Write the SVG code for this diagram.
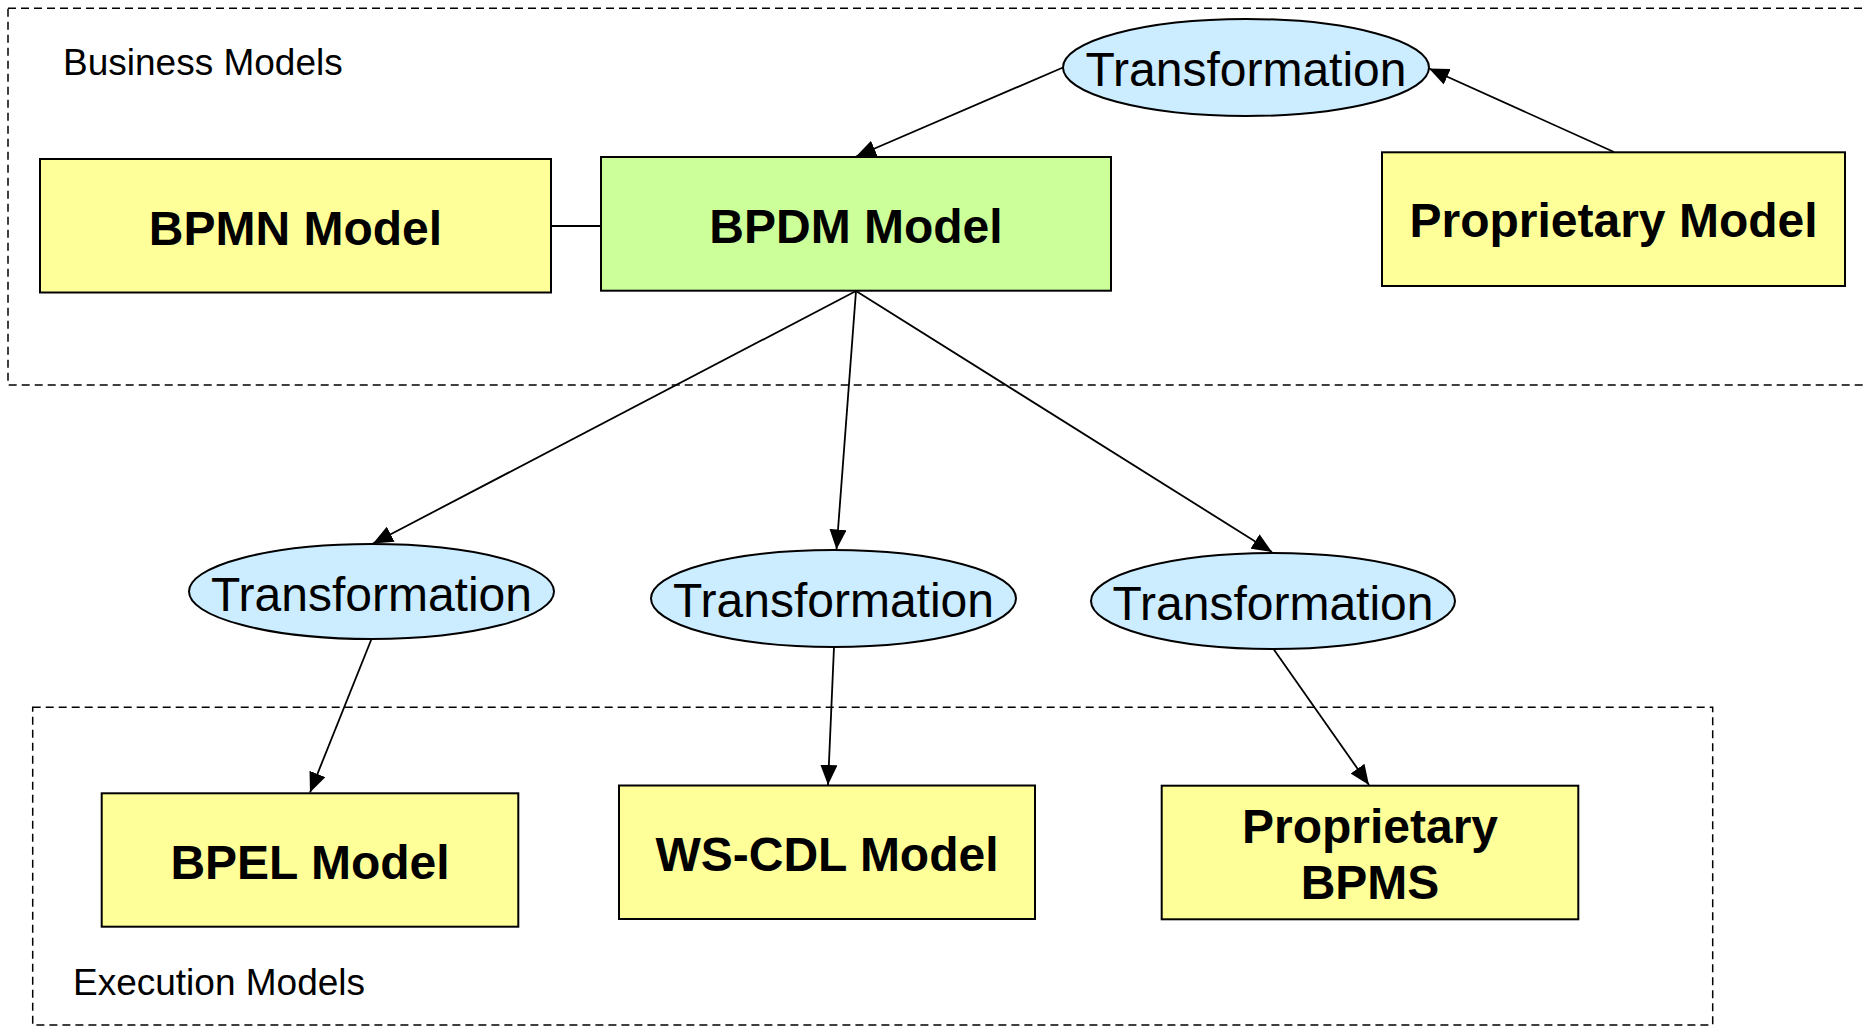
<svg xmlns="http://www.w3.org/2000/svg" width="1863" height="1027" viewBox="0 0 1863 1027">
<style>
  .region { fill: none; stroke: #000; stroke-width: 1.5; stroke-dasharray: 8 5; }
  .box { stroke: #000; stroke-width: 2; }
  .yellow { fill: #FFFF99; }
  .green { fill: #CCFF99; }
  .ell { fill: #CCECFF; stroke: #000; stroke-width: 2; }
  .btxt { font-family: "Liberation Sans", Arial, sans-serif; font-weight: bold; font-size: 48px; text-anchor: middle; fill: #000; }
  .etxt { font-family: "Liberation Sans", Arial, sans-serif; font-size: 48px; text-anchor: middle; fill: #000; }
  .ltxt { font-family: "Liberation Sans", Arial, sans-serif; font-size: 37px; fill: #000; }
  .conn { fill: none; stroke: #000; stroke-width: 1.8; }
</style>
<defs>
  <marker id="arrow" viewBox="0 0 20 17" refX="20" refY="8.5" markerWidth="20" markerHeight="17" markerUnits="userSpaceOnUse" orient="auto">
    <path d="M0,0 L20,8.5 L0,17 z" fill="#000"/>
  </marker>
</defs>
<rect width="1863" height="1027" fill="#fff"/>

<g id="business-models">
  <rect class="region" x="8" y="8.3" width="1870" height="376.7"/>
  <text class="ltxt" x="63" y="75">Business Models</text>
</g>
<g id="execution-models">
  <rect class="region" x="32.7" y="707.3" width="1680" height="317.7"/>
  <text class="ltxt" x="73" y="995">Execution Models</text>
</g>

<g id="connectors">
  <line class="conn" x1="551" y1="226" x2="601" y2="226"/>
  <line class="conn" x1="1063" y1="67.5" x2="856" y2="156.5" marker-end="url(#arrow)"/>
  <line class="conn" x1="1614" y1="152" x2="1429" y2="68.5" marker-end="url(#arrow)"/>
  <line class="conn" x1="856" y1="291" x2="373" y2="543.5" marker-end="url(#arrow)"/>
  <line class="conn" x1="856" y1="291" x2="836.5" y2="549.5" marker-end="url(#arrow)"/>
  <line class="conn" x1="856" y1="291" x2="1272" y2="552" marker-end="url(#arrow)"/>
  <line class="conn" x1="371.5" y1="639" x2="310" y2="792.5" marker-end="url(#arrow)"/>
  <line class="conn" x1="834" y1="647" x2="828" y2="785" marker-end="url(#arrow)"/>
  <line class="conn" x1="1273.5" y1="649" x2="1369" y2="785" marker-end="url(#arrow)"/>
</g>

<g id="bpmn-model">
  <rect class="box yellow" x="40" y="159" width="511" height="133.5"/>
  <text class="btxt" x="295.5" y="244.5">BPMN Model</text>
</g>
<g id="bpdm-model">
  <rect class="box green" x="601" y="157" width="510" height="133.7"/>
  <text class="btxt" x="856" y="242.5">BPDM Model</text>
</g>
<g id="proprietary-model">
  <rect class="box yellow" x="1382" y="152.3" width="463" height="133.7"/>
  <text class="btxt" x="1613.5" y="237">Proprietary Model</text>
</g>

<g id="transformation-top">
  <ellipse class="ell" cx="1246" cy="67.5" rx="183" ry="48.5"/>
  <text class="etxt" x="1246" y="85.8">Transformation</text>
</g>
<g id="transformation-1">
  <ellipse class="ell" cx="371.5" cy="591.5" rx="182.5" ry="47.5"/>
  <text class="etxt" x="371.5" y="610.5">Transformation</text>
</g>
<g id="transformation-2">
  <ellipse class="ell" cx="833.5" cy="598.5" rx="182.5" ry="48.5"/>
  <text class="etxt" x="833.5" y="617">Transformation</text>
</g>
<g id="transformation-3">
  <ellipse class="ell" cx="1273" cy="601" rx="182" ry="48"/>
  <text class="etxt" x="1273" y="619.5">Transformation</text>
</g>

<g id="bpel-model">
  <rect class="box yellow" x="101.7" y="793.3" width="416.6" height="133.4"/>
  <text class="btxt" x="310" y="878.5">BPEL Model</text>
</g>
<g id="ws-cdl-model">
  <rect class="box yellow" x="619" y="785.5" width="416" height="133.5"/>
  <text class="btxt" x="827" y="870.5">WS-CDL Model</text>
</g>
<g id="proprietary-bpms">
  <rect class="box yellow" x="1161.7" y="785.7" width="416.6" height="133.6"/>
  <text class="btxt" x="1370" y="842.7">Proprietary</text>
  <text class="btxt" x="1370" y="899.3">BPMS</text>
</g>
</svg>
